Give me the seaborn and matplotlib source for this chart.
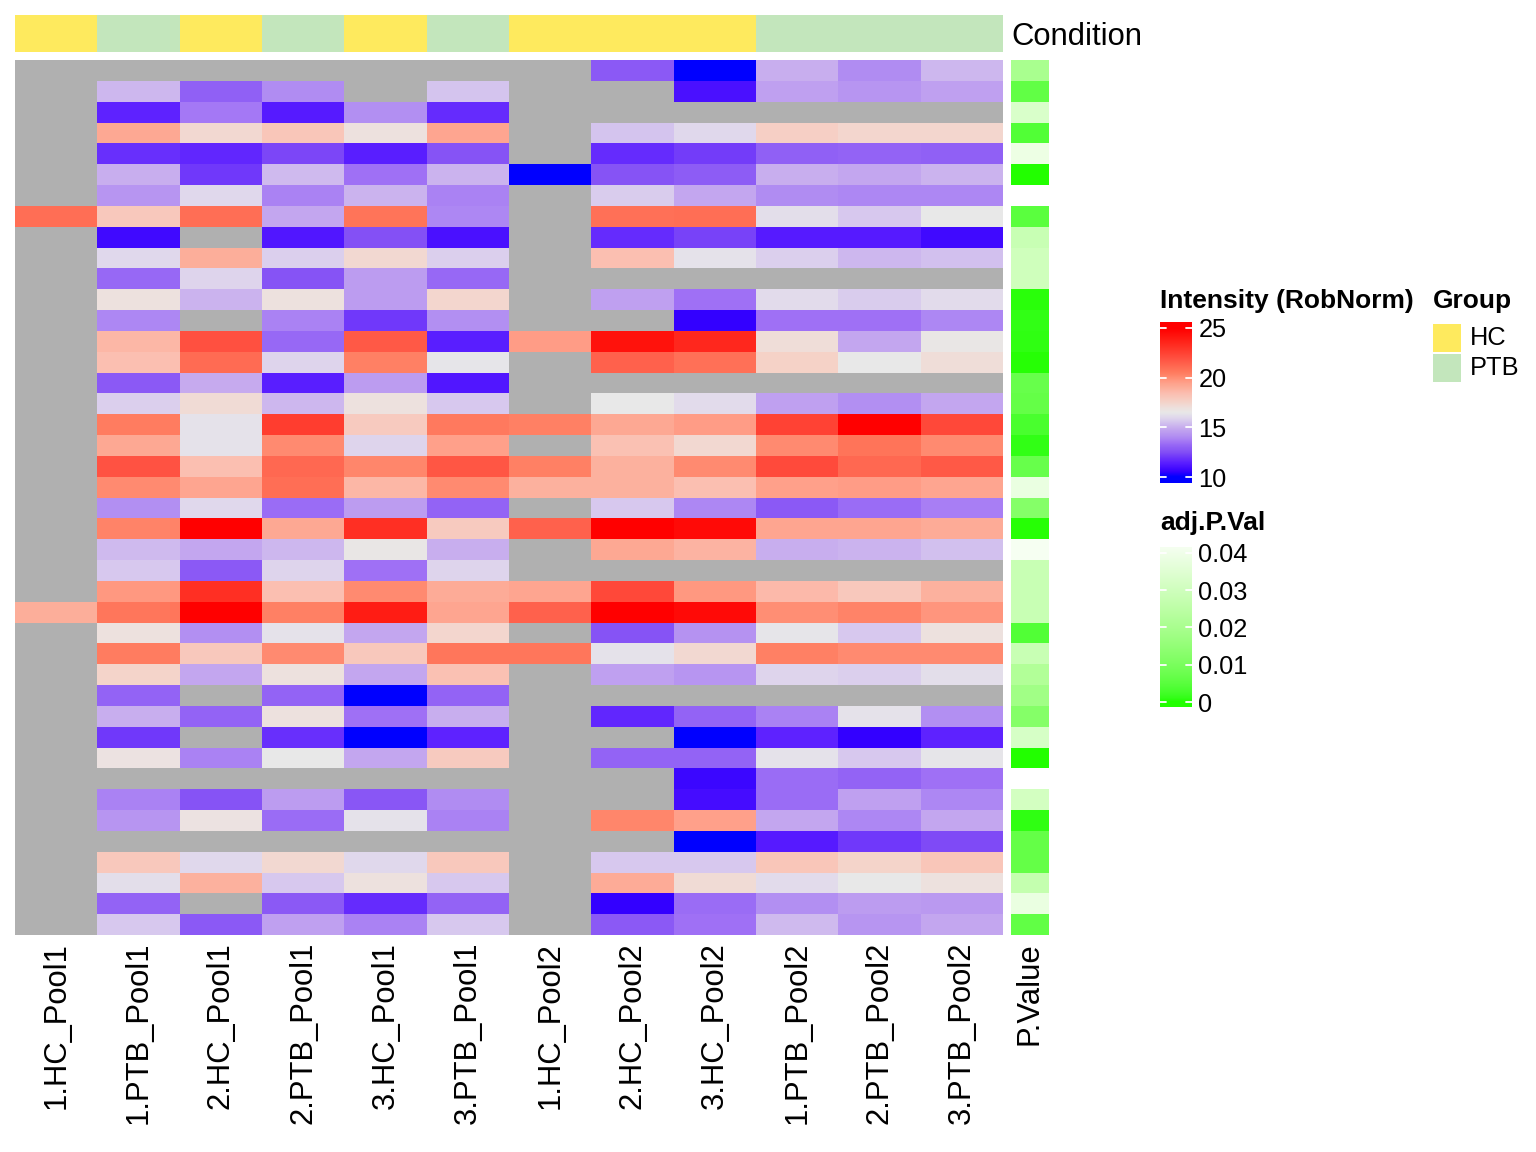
import numpy as np
import pandas as pd
import matplotlib
matplotlib.use("Agg")
import matplotlib.pyplot as plt
from matplotlib.colors import ListedColormap, LinearSegmentedColormap
from matplotlib.patches import Rectangle
import seaborn as sns

sns.set_style("white")
plt.rcParams['font.family'] = ['Liberation Sans', 'DejaVu Sans']
plt.rcParams['text.color'] = 'black'
plt.rcParams['xtick.color'] = 'black'
plt.rcParams['ytick.color'] = 'black'

N = np.nan

# ---------------- data ----------------
samples = ["1.HC_Pool1", "1.PTB_Pool1", "2.HC_Pool1", "2.PTB_Pool1", "3.HC_Pool1", "3.PTB_Pool1",
           "1.HC_Pool2", "2.HC_Pool2", "3.HC_Pool2", "1.PTB_Pool2", "2.PTB_Pool2", "3.PTB_Pool2"]
conditions = ["HC", "PTB", "HC", "PTB", "HC", "PTB", "HC", "HC", "HC", "PTB", "PTB", "PTB"]

hc1_pool1 = [N, N, N, N, N, N, N, 21, N, N, N, N, N, N, N, N, N, N, N, N, N,
             N, N, N, N, N, 19, N, N, N, N, N, N, N, N, N, N, N, N, N, N, N]
ptb1_pool1 = [N, 15.2, 11.5, 19.2, 11.8, 15, 14.3, 18, 10.8, 16,
              13.2, 16.9, 13.9, 18.7, 18.4, 12.8, 15.8, 20.5, 19.2, 21.9,
              20.1, 14.1, 20.3, 15.3, 15.6, 19.7, 20.7, 16.9, 20.5, 17.5,
              13.1, 15, 12, 16.8, N, 13.8, 14.3, N, 18, 16.2, 13.1, 15.6]
hc2_pool1 = [N, 13, 13.6, 17.3, 11.6, 12, 16, 21, N, 19,
             15.9, 15.1, N, 22, 21.1, 14.9, 17.2, 16.3, 16.3, 18.4,
             19.3, 16, 25, 14.8, 12.8, 23.2, 25, 14.1, 18, 14.8,
             N, 13.1, N, 13.8, N, 12.6, 16.8, N, 16, 18.9, N, 12.8]
ptb2_pool1 = [N, 14, 11.3, 18.1, 12.3, 15.3, 13.8, 14.8, 11.2, 15.8,
              12.6, 16.9, 13.8, 13.2, 15.9, 11.4, 15.2, 22.7, 20.1, 21.2,
              21, 13.3, 19.2, 15.2, 15.9, 18.4, 20.4, 16.3, 20.1, 16.9,
              13.1, 16.9, 11.8, 16.5, N, 14.5, 13.3, N, 17.3, 15.6, 12.8, 14.6]
hc3_pool1 = [N, N, 14.1, 16.9, 11.4, 13.4, 15.1, 20.8, 12.5, 17.3,
             14.5, 14.5, 12, 21.7, 20.4, 14.5, 16.9, 17.9, 15.9, 20.2,
             18.7, 14.5, 23.2, 16.6, 13.4, 20.1, 23.9, 14.8, 18, 14.8,
             10, 13.4, 10, 14.8, N, 12.7, 16.3, N, 16, 16.9, 11.7, 13.8]
ptb3_pool1 = [N, 15.5, 11.7, 19.3, 12.6, 15.1, 13.8, 13.9, 11, 15.8,
              13.2, 17.4, 14.1, 11.4, 16.4, 11.2, 15.6, 20.6, 19.5, 21.8,
              20.1, 13.1, 17.9, 15, 15.9, 19.1, 19.3, 17.4, 20.7, 18.3,
              13.1, 15, 11.5, 17.9, N, 14, 13.8, N, 18, 15.6, 13.1, 15.6]
hc1_pool2 = [N, N, N, N, N, 10, N, N, N, N,
             N, N, N, 19.6, N, N, N, 20.4, N, 20.4,
             18.9, N, 21.4, N, N, 19.3, 21.4, N, 20.7, N,
             N, N, N, N, N, N, N, N, N, N, N, N]
hc2_pool2 = [12.8, N, N, 15.5, 11.7, 12.6, 15.7, 20.9, 11.7, 18.4,
             N, 14.6, N, 24.3, 21.4, N, 16.5, 19.2, 18.3, 18.9,
             18.9, 15.6, 25, 19.2, N, 22.3, 25, 12.6, 16.3, 14.6,
             N, 11.6, N, 13.1, N, N, 20.2, N, 15.6, 19.1, 10.5, 12.8]
hc3_pool2 = [10, 11, N, 16, 12.1, 12.9, 14.8, 21, 12.2, 16.3,
             N, 13.4, 10.5, 23.5, 20.9, N, 16.1, 19.6, 17.3, 20.1,
             18.4, 13.9, 24.6, 18.8, N, 19.7, 24.6, 14.2, 17.3, 14.3,
             N, 13.1, 10, 13.1, 10.7, 10.9, 19.5, 10, 15.6, 17.2, 13.3, 13.4]
ptb1_pool2 = [15, 14.6, N, 17.7, 13, 15, 14, 16.2, 11.3, 15.8,
              N, 16.1, 13.4, 17.1, 17.6, N, 14.6, 22.5, 20.1, 22.2,
              19.5, 12.8, 19.3, 15, N, 18.6, 20, 16.4, 20.4, 15.9,
              N, 13.8, 11.5, 16.3, 13.3, 13.3, 14.8, 11.3, 18.1, 16.1, 14.1, 15.3]
ptb2_pool2 = [14, 14.3, N, 17.4, 13.1, 14.8, 13.9, 15.6, 11.3, 15.2,
              N, 15.7, 13.4, 14.8, 16.5, N, 14.1, 25, 20.8, 21.2,
              19.6, 13.3, 19.3, 15.1, N, 18, 20.3, 15.6, 20.1, 15.8,
              N, 16.3, 10.5, 15.6, 13.1, 14.6, 13.9, 12, 17.5, 16.5, 14.5, 14.3]
ptb3_pool2 = [15.2, 14.6, N, 17.4, 13, 15.1, 13.9, 16.5, 10.8, 15.4,
              N, 16.1, 13.9, 16.6, 17.1, N, 14.8, 22.3, 20.1, 21.7,
              19.3, 13.7, 19.1, 15.4, N, 18.9, 19.8, 16.9, 20.1, 16.2,
              N, 14.1, 11.5, 16.4, 13.4, 13.9, 14.8, 12.4, 18.1, 16.9, 14.4, 14.8]

adj_p_val = [0.020, 0.006, 0.033, 0.004, 0.039, 0.000, 0.046, 0.005, 0.028, 0.030,
             0.030, 0.0005, 0.001, 0.0008, 0.0002, 0.007, 0.0065, 0.003, 0.001, 0.007,
             0.038, 0.012, 0.0003, 0.042, 0.028, 0.028, 0.028, 0.004, 0.028, 0.022,
             0.018, 0.012, 0.032, 0.000, 0.045, 0.031, 0.0008, 0.0065, 0.0065, 0.027,
             0.038, 0.006]

intensity_ticks = [10, 15, 20, 25]
pval_ticks = [0, 0.01, 0.02, 0.03, 0.04]
pval_tick_labels = ["0", "0.01", "0.02", "0.03", "0.04"]

columns = [hc1_pool1, ptb1_pool1, hc2_pool1, ptb2_pool1, hc3_pool1, ptb3_pool1,
           hc1_pool2, hc2_pool2, hc3_pool2, ptb1_pool2, ptb2_pool2, ptb3_pool2]
df = pd.DataFrame({s: c for s, c in zip(samples, columns)})
pdf = pd.DataFrame({"P.Value": adj_p_val})

# ---------------- colour ramps ----------------
_M = np.array([[0.4124564, 0.3575761, 0.1804375],
               [0.2126729, 0.7151522, 0.0721750],
               [0.0193339, 0.1191920, 0.9503041]])
_W = np.array([0.95047, 1.0, 1.08883])


def hex2rgb(h):
    h = h.lstrip('#')
    return np.array([int(h[i:i + 2], 16) / 255 for i in (0, 2, 4)])


def rgb2lab(rgb):
    lin = np.where(rgb <= 0.04045, rgb / 12.92, ((rgb + 0.055) / 1.055) ** 2.4)
    xyz = _M @ lin / _W
    f = np.where(xyz > 0.008856, np.cbrt(xyz), 7.787 * xyz + 16 / 116)
    return np.array([116 * f[1] - 16, 500 * (f[0] - f[1]), 200 * (f[1] - f[2])])


def lab2rgb(lab):
    fy = (lab[0] + 16) / 116
    fx = fy + lab[1] / 500
    fz = fy - lab[2] / 200
    f = np.array([fx, fy, fz])
    xyz = np.where(f ** 3 > 0.008856, f ** 3, (f - 16 / 116) / 7.787) * _W
    lin = np.linalg.inv(_M) @ xyz
    lin = np.clip(lin, 0, 1)
    rgb = np.where(lin <= 0.0031308, 12.92 * lin, 1.055 * lin ** (1 / 2.4) - 0.055)
    return np.clip(rgb, 0, 1)


def lab_cmap(breaks, cols, n=256):
    breaks = np.asarray(breaks, float)
    labs = [rgb2lab(hex2rgb(c)) for c in cols]
    xs = np.linspace(breaks[0], breaks[-1], n)
    out = []
    for x in xs:
        i = min(np.searchsorted(breaks, x, side='right') - 1, len(breaks) - 2)
        t = (x - breaks[i]) / (breaks[i + 1] - breaks[i])
        out.append(lab2rgb(labs[i] * (1 - t) + labs[i + 1] * t))
    return ListedColormap(out)


INT_MIN, INT_MAX = 10, 25
int_stops = [(10, "#0000FF"), (10.5, "#3300FF"), (11, "#4A10FF"), (11.5, "#5E22FF"),
             (12, "#7038FA"), (12.5, "#8450F5"), (13, "#9060F5"), (13.5, "#A274F5"),
             (14, "#B08CF2"), (14.5, "#BC9CF0"), (15, "#C8AEEE"), (15.5, "#D4C4EE"),
             (16, "#E0D8EC"), (16.5, "#E8E8E8"), (17, "#EEDFDC"), (17.5, "#F4D4CA"),
             (18, "#F8C8BC"), (18.5, "#FCBCAE"), (19, "#FCAE9A"), (19.5, "#FFA08A"),
             (20, "#FF8E74"), (20.5, "#FF7C60"), (21, "#FF6E55"), (22, "#FF5040"),
             (23, "#FF3528"), (24, "#FF1A12"), (25, "#FF0000")]
int_cmap = LinearSegmentedColormap.from_list(
    "intensity", [((v - INT_MIN) / (INT_MAX - INT_MIN), c) for v, c in int_stops], N=512)
P_MIN, P_MAX = 0.0, 0.045
p_cmap = lab_cmap([P_MIN, P_MAX], ["#22FF00", "#FFFFFF"])
cond_colors = {"HC": "#FEEA5E", "PTB": "#C3E6BC"}
NA_COLOR = "#B0B0B0"

# ---------------- figure ----------------
W, H = 1536, 1152
fig = plt.figure(figsize=(W / 100, H / 100), dpi=100)


def box(x0, y0, x1, y1):
    return [x0 / W, 1 - y1 / H, (x1 - x0) / W, (y1 - y0) / H]


LABEL_FS = 22.3
LEG_FS = 18.3
TITLE_FS = 19

ax_main = fig.add_axes(box(15, 60, 1003, 935))
ax_p = fig.add_axes(box(1011, 60, 1049, 935))
ax_cond = fig.add_axes(box(15, 15, 1003, 52))

ax_main.set_facecolor(NA_COLOR)
sns.heatmap(df, cmap=int_cmap, vmin=INT_MIN, vmax=INT_MAX, cbar=False, ax=ax_main,
            xticklabels=samples, yticklabels=False)
ax_main.set_xticklabels(samples, rotation=90, fontsize=LABEL_FS)
ax_main.tick_params(axis='x', length=0, pad=5)

sns.heatmap(pdf, cmap=p_cmap, vmin=P_MIN, vmax=P_MAX, cbar=False, ax=ax_p,
            xticklabels=["P.Value"], yticklabels=False)
ax_p.set_xticklabels(["P.Value"], rotation=90, fontsize=LABEL_FS)
ax_p.tick_params(axis='x', length=0, pad=5)

cond_levels = ["HC", "PTB"]
cond_codes = pd.DataFrame([[cond_levels.index(c) for c in conditions]], columns=samples)
sns.heatmap(cond_codes, cmap=ListedColormap([cond_colors[l] for l in cond_levels]),
            vmin=0, vmax=1, cbar=False, ax=ax_cond, xticklabels=False, yticklabels=False)
fig.text(1011 / W, 1 - 37 / H, "Condition", fontsize=LABEL_FS, va='center', ha='left')

for a in (ax_main, ax_p, ax_cond):
    for s in a.spines.values():
        s.set_visible(False)
    a.set_xlabel("")
    a.set_ylabel("")


# ---------------- legends ----------------
def draw_bar(cax, cmap, vmin, vmax, lo, hi, ticks, labels):
    grad = np.linspace(lo, hi, 300).reshape(-1, 1)
    cax.imshow(grad, aspect='auto', origin='lower', extent=[0, 1, lo, hi],
               cmap=cmap, vmin=vmin, vmax=vmax, interpolation='bilinear')
    cax.set_xlim(0, 1)
    cax.set_ylim(lo, hi)
    cax.set_xticks([])
    cax.yaxis.tick_right()
    cax.set_yticks(ticks)
    cax.set_yticklabels(labels, fontsize=LEG_FS)
    cax.tick_params(axis='y', length=0, pad=4.5)
    for s in cax.spines.values():
        s.set_visible(False)
    for t in ticks:
        cax.plot([0, 0.2], [t, t], color='white', lw=1.3)
        cax.plot([0.8, 1], [t, t], color='white', lw=1.3)


cax1 = fig.add_axes(box(1160, 322, 1192, 483))
draw_bar(cax1, int_cmap, INT_MIN, INT_MAX, 9.4, 25.6, intensity_ticks,
         [str(t) for t in intensity_ticks])
fig.text(1160 / W, 1 - 301 / H, "Intensity (RobNorm)", fontsize=TITLE_FS,
         fontweight='bold', va='center', ha='left')

cax2 = fig.add_axes(box(1160, 547, 1192, 707))
draw_bar(cax2, p_cmap, P_MIN, P_MAX, -0.00134, 0.0416, pval_ticks, pval_tick_labels)
fig.text(1160 / W, 1 - 523 / H, "adj.P.Val", fontsize=TITLE_FS,
         fontweight='bold', va='center', ha='left')

fig.text(1433 / W, 1 - 301 / H, "Group", fontsize=TITLE_FS,
         fontweight='bold', va='center', ha='left')
for i, lev in enumerate(cond_levels):
    y0 = 324 + 30 * i
    fig.add_artist(Rectangle((1433 / W, 1 - (y0 + 28) / H), 28 / W, 28 / H,
                             transform=fig.transFigure, facecolor=cond_colors[lev],
                             edgecolor='none'))
    fig.text(1470 / W, 1 - (y0 + 14) / H, lev, fontsize=LEG_FS, va='center', ha='left')

fig.savefig("out.png", dpi=100)
